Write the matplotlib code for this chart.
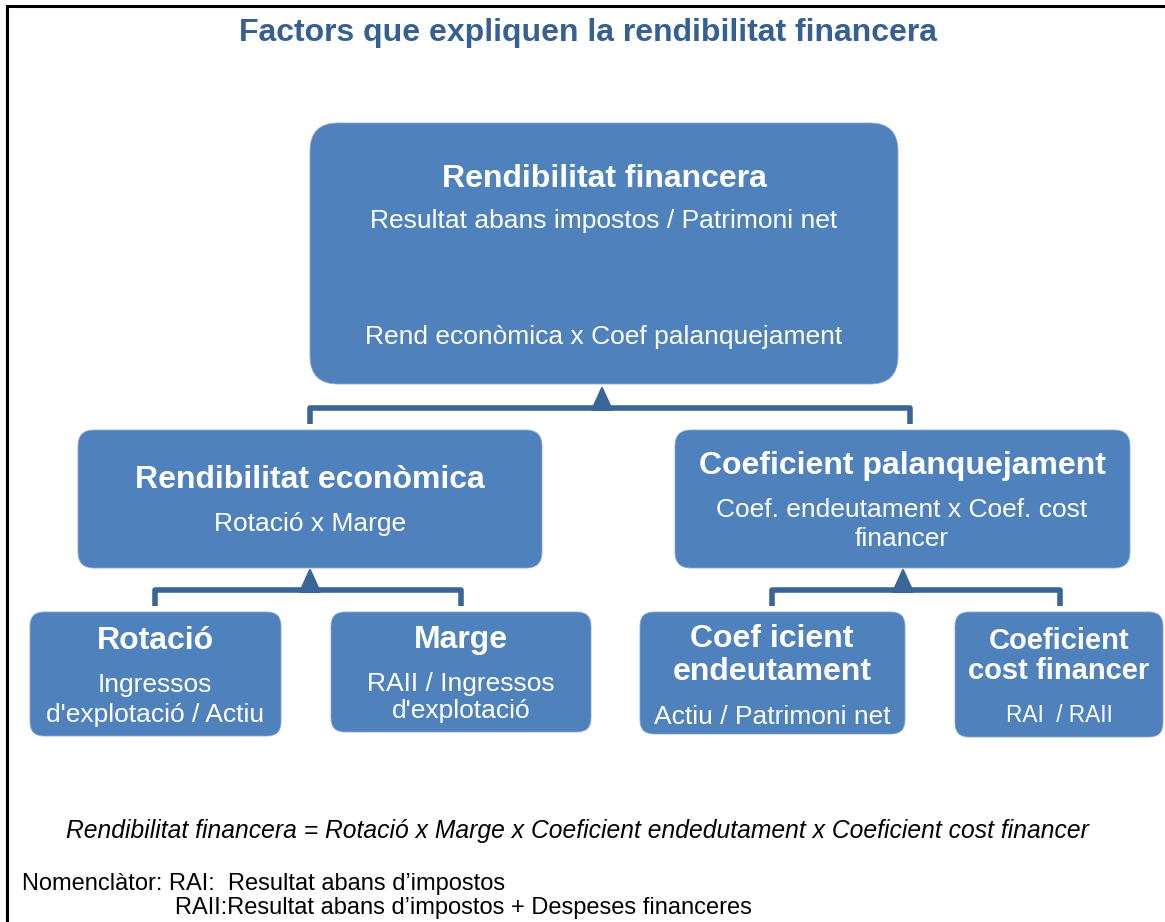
import matplotlib
matplotlib.use('Agg')
import matplotlib.pyplot as plt
from matplotlib.patches import FancyBboxPatch, Polygon

W, H = 1165, 922
box_col = '#4F81BD'
line_col = '#3A6597'

# boxes: x0, y0, x1, y1 (pixel coords, y down)
boxes = [
    (310, 123, 898, 384),
    (78, 430, 542, 568),
    (675, 430, 1130, 568),
    (30, 612, 281, 736),
    (331, 612, 591, 732),
    (640, 612, 905, 734),
    (955, 612, 1163, 737),
]
radius = [28, 16, 16, 14, 14, 14, 14]

# texts inside boxes: (x, y, text, size, bold)
box_texts = [
    (604, 176, 'Rendibilitat financera', 23, True),
    (604, 218, 'Resultat abans impostos / Patrimoni net', 19, False),
    (604, 334, 'Rend econòmica x Coef palanquejament', 19, False),
    (310, 477, 'Rendibilitat econòmica', 23, True),
    (310, 521, 'Rotació x Marge', 19, False),
    (902, 463, 'Coeficient palanquejament', 23, True),
    (902, 507, 'Coef. endeutament x Coef. cost', 19, False),
    (902, 536, 'financer', 19, False),
    (155, 638, 'Rotació', 23, True),
    (155, 682, 'Ingressos', 19, False),
    (155, 712, "d'explotació / Actiu", 19, False),
    (461, 637, 'Marge', 23, True),
    (461, 681, 'RAII / Ingressos', 19, False),
    (461, 708, "d'explotació", 19, False),
    (772, 636, 'Coef icient', 23, True),
    (772, 669, 'endeutament', 23, True),
    (772, 714, 'Actiu / Patrimoni net', 19, False),
    (1059, 638, 'Coeficient', 21, True),
    (1059, 668, 'cost financer', 21, True),
    (1059, 712, 'RAI  / RAII', 16.3, False),
]

# connectors: left x, right x, bar y, drop y, arrow x
connectors = [
    (310, 910, 408, 424, 602),
    (155, 461, 590, 606, 310),
    (772, 1060, 590, 606, 903),
]

fig = plt.figure(figsize=(W / 100, H / 100), dpi=100)
ax = fig.add_axes([0, 0, 1, 1])
ax.set_xlim(0, W)
ax.set_ylim(H, 0)
ax.axis('off')

# frame
ax.plot([7, 7, W + 5], [H + 5, 6, 6], color='black', lw=2.2, solid_joinstyle='miter')

for (x0, y0, x1, y1), r in zip(boxes, radius):
    p = FancyBboxPatch((x0, y0), x1 - x0, y1 - y0,
                       boxstyle='round,pad=0,rounding_size=%d' % r,
                       facecolor=box_col, edgecolor='#89A8D2', lw=0.6)
    ax.add_patch(p)

for xl, xr, yb, yd, xa in connectors:
    ax.plot([xl, xl, xr, xr], [yd, yb, yb, yd], color=line_col, lw=4,
            solid_joinstyle='round', solid_capstyle='butt')
    tri = Polygon([(xa - 10, yb + 2), (xa + 10, yb + 2), (xa, yb - 20)],
                  closed=True, facecolor=line_col, edgecolor=line_col,
                  lw=1.5, joinstyle='round')
    ax.add_patch(tri)

# small downward nudge: va='center' sits a bit high vs the reference
dy = 3
for x, y, t, s, b in box_texts:
    ax.text(x, y + dy, t, ha='center', va='center', color='white', fontsize=s,
            fontweight='bold' if b else 'normal', family='Liberation Sans')

ax.text(588, 30 + dy, 'Factors que expliquen la rendibilitat financera', ha='center',
        va='center', color='#376092', fontsize=23, fontweight='bold',
        family='Liberation Sans')

ax.text(577, 828 + dy, 'Rendibilitat financera = Rotació x Marge x Coeficient endedutament '
        'x Coeficient cost financer', ha='center', va='center', fontsize=17.7,
        style='italic', family='Liberation Sans', color='black')

ax.text(22, 884, 'Nomenclàtor: RAI:  Resultat abans d\u2019impostos', ha='left',
        va='center', fontsize=17, family='Liberation Sans', color='black')
ax.text(175, 908, 'RAII:Resultat abans d\u2019impostos + Despeses financeres', ha='left',
        va='center', fontsize=17, family='Liberation Sans', color='black')

fig.savefig('out.png', dpi=100)
